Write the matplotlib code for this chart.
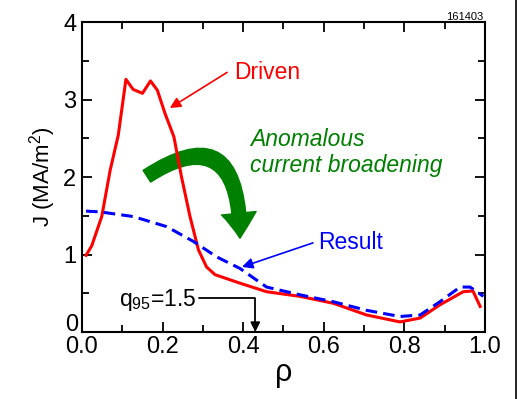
import matplotlib
matplotlib.use("Agg")
import matplotlib.pyplot as plt
from matplotlib.patches import FancyArrowPatch
from matplotlib.lines import Line2D
from matplotlib.ticker import MultipleLocator, FormatStrFormatter, FuncFormatter

plt.rcParams['font.family'] = ['Liberation Sans', 'DejaVu Sans']
plt.rcParams['mathtext.fontset'] = 'custom'
plt.rcParams['mathtext.rm'] = 'Liberation Sans'
plt.rcParams['mathtext.it'] = 'Liberation Sans:italic'

# driven current profile (red)
rho_driven = [0.01, 0.024, 0.049, 0.07, 0.09, 0.109, 0.127, 0.15, 0.17, 0.187,
              0.206, 0.228, 0.247, 0.268, 0.289, 0.309, 0.33, 0.392, 0.458,
              0.541, 0.624, 0.706, 0.789, 0.839, 0.888, 0.946, 0.97, 0.988]
j_driven = [0.99, 1.11, 1.49, 2.09, 2.54, 3.26, 3.13, 3.08, 3.24, 3.12,
            2.82, 2.52, 2.0, 1.49, 1.06, 0.84, 0.74, 0.63, 0.52,
            0.46, 0.37, 0.22, 0.13, 0.18, 0.35, 0.52, 0.53, 0.33]

# resulting current profile (blue dashed)
rho_result = [0.01, 0.045, 0.127, 0.21, 0.276, 0.334, 0.392, 0.458, 0.541,
              0.624, 0.706, 0.789, 0.839, 0.888, 0.938, 0.963, 0.996]
j_result = [1.56, 1.55, 1.49, 1.36, 1.17, 0.97, 0.82, 0.58, 0.48,
            0.39, 0.28, 0.20, 0.22, 0.39, 0.58, 0.58, 0.46]

fig = plt.figure(figsize=(5.17, 3.99), dpi=100)
ax = fig.add_axes([0.1586, 0.1679, 0.7795, 0.7769])

ax.plot(rho_driven, j_driven, '-', color='#ff0000', lw=2.2)
ax.plot(rho_result, j_result, '--', color='#0000ff', lw=2.2, dashes=(3.8, 2.0))

ax.set_xlim(0, 1)
ax.set_ylim(0, 4)
ax.xaxis.set_major_locator(MultipleLocator(0.2))
ax.xaxis.set_minor_locator(MultipleLocator(0.1))
ax.yaxis.set_major_locator(MultipleLocator(1))
ax.yaxis.set_minor_locator(MultipleLocator(0.5))
ax.xaxis.set_major_formatter(FormatStrFormatter('%.1f'))
# the "0" of the y axis sits a bit higher in the original, drawn separately below
ax.yaxis.set_major_formatter(FuncFormatter(lambda v, p: '' if v == 0 else f'{v:.0f}'))
ax.tick_params(which='both', direction='in', top=True, right=True, width=1.3, labelsize=17)
ax.tick_params(which='major', length=7)
ax.tick_params(which='minor', length=5)
ax.tick_params(axis='y', pad=4)
ax.tick_params(axis='x', pad=3)
for s in ax.spines.values():
    s.set_linewidth(1.5)
ax.annotate('0', xy=(0, 0), xycoords=('axes fraction', 'data'), xytext=(-4, 7),
            textcoords='offset pixels', ha='right', va='center', fontsize=17)

ax.set_xlabel('ρ', fontsize=22, labelpad=0)
ax.set_ylabel('J (MA/m$^2$)', fontsize=16, labelpad=4)

# annotations
ax.text(0.377, 3.35, 'Driven', color='#ff0000', fontsize=16.5, va='center')
ax.annotate('', xy=(0.218, 2.89), xytext=(0.36, 3.35),
            arrowprops=dict(arrowstyle='-|>', color='#ff0000', lw=1.2,
                            mutation_scale=16, shrinkA=0, shrinkB=0))

ax.text(0.586, 1.15, 'Result', color='#0000ff', fontsize=16.5, va='center')
ax.annotate('', xy=(0.397, 0.84), xytext=(0.573, 1.15),
            arrowprops=dict(arrowstyle='-|>', color='#0000ff', lw=1.2,
                            mutation_scale=16, shrinkA=0, shrinkB=0))

ax.text(0.417, 2.63, 'Anomalous\ncurrent broadening', color='#008000',
        fontsize=16.5, style='italic', va='top', linespacing=1.15)

ax.text(0.092, 0.41, 'q$_{\\rm 95}$=1.5', color='black', fontsize=16.5, va='center')
ax.annotate('', xy=(0.43, 0.0), xytext=(0.29, 0.44),
            arrowprops=dict(arrowstyle='-|>', color='black', lw=1.3,
                            mutation_scale=14, shrinkA=0, shrinkB=0,
                            connectionstyle='angle,angleA=0,angleB=90,rad=0'))

green = FancyArrowPatch((0.161, 2.01), (0.392, 1.21),
                        arrowstyle='simple,head_width=25,head_length=18,tail_width=10',
                        connectionstyle='angle3,angleA=33,angleB=90',
                        color='#008000', shrinkA=0, shrinkB=0, mutation_scale=1)
ax.add_patch(green)

fig.text(483 / 517, 1 - 20 / 399, '161403', fontsize=8, ha='right', va='baseline')
fig.add_artist(Line2D([515.5 / 517, 515.5 / 517], [0, 1], color='black', lw=1.2,
                      transform=fig.transFigure))

fig.savefig('out.png', dpi=100)
